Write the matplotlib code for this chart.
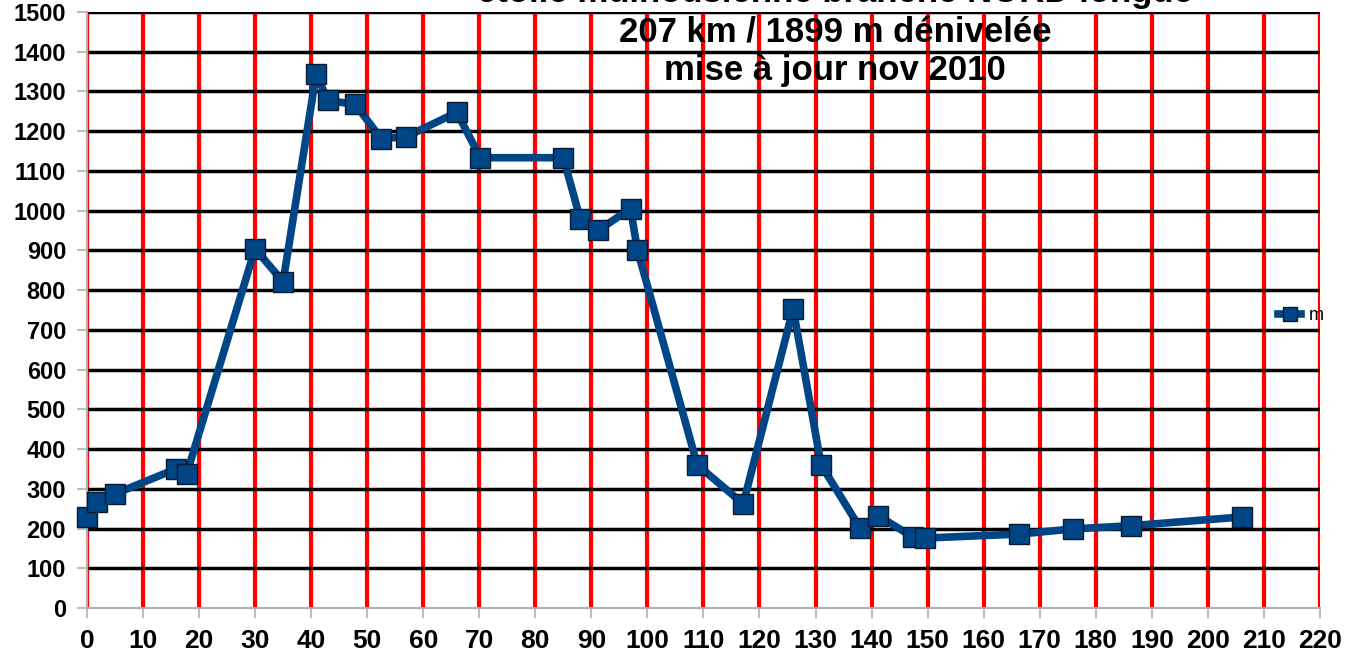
import matplotlib
matplotlib.use("Agg")
import matplotlib.pyplot as plt

# distance (km) and altitude (m)
km = [0, 1.8, 5, 15.9, 17.8, 30, 35, 40.9, 43, 47.9, 52.5, 57, 66, 70.2, 85,
      88, 91.2, 97, 98.2, 108.9, 117.1, 126, 131, 137.9, 141.2, 147.3, 149.6,
      166.3, 176, 186.3, 206]
alt = [229, 267, 287, 350, 337, 904, 821, 1343, 1277, 1267, 1181, 1186, 1247,
       1133, 1133, 980, 950, 1005, 902, 360, 262, 753, 360, 202, 232, 179, 176,
       186, 199, 207, 229]

title_lines = ["étoile mulhousienne branche NORD longue",
               "207 km / 1899 m dénivelée",
               "mise à jour nov 2010"]

plt.rcParams['font.family'] = ['Liberation Sans', 'DejaVu Sans']

fig = plt.figure(figsize=(13.58, 6.58), dpi=100)
ax = fig.add_axes([0.064, 0.076, 0.908, 0.906])

ax.set_xlim(0, 220)
ax.set_ylim(0, 1500)
ax.set_xticks(range(0, 221, 10))
ax.set_yticks(range(0, 1501, 100))

for x in range(0, 221, 10):
    ax.axvline(x, color="#ff0000", lw=3, zorder=1)
for y in range(100, 1501, 100):
    ax.axhline(y, color="black", lw=2.5, zorder=2)

ax.plot(km, alt, color="#004586", lw=5.5, marker="s", markersize=14,
        markerfacecolor="#004586", markeredgecolor="#0a1a30",
        markeredgewidth=1, label="m", zorder=3, clip_on=False)

for s in ["top", "right"]:
    ax.spines[s].set_visible(False)
for s in ["left", "bottom"]:
    ax.spines[s].set_color("#b0b0b0")
    ax.spines[s].set_linewidth(1.5)
ax.tick_params(axis="both", colors="#b0b0b0", length=7, width=1.2,
               labelcolor="black")
ax.tick_params(axis="y", pad=8, labelsize=17)
ax.tick_params(axis="x", pad=8, labelsize=19)
for lbl in ax.get_xticklabels() + ax.get_yticklabels():
    lbl.set_fontweight("bold")

leg = ax.legend(loc="center left", bbox_to_anchor=(0.96, 0.49), frameon=False,
                fontsize=13, handlelength=1.3, handletextpad=0.4,
                markerscale=0.7, borderaxespad=0)

for t, y in zip(title_lines, [1.012, 0.951, 0.893]):
    fig.text(0.615, y, t, ha="center", va="center", fontsize=25,
             fontweight="bold")

fig.savefig("out.png", dpi=100)
